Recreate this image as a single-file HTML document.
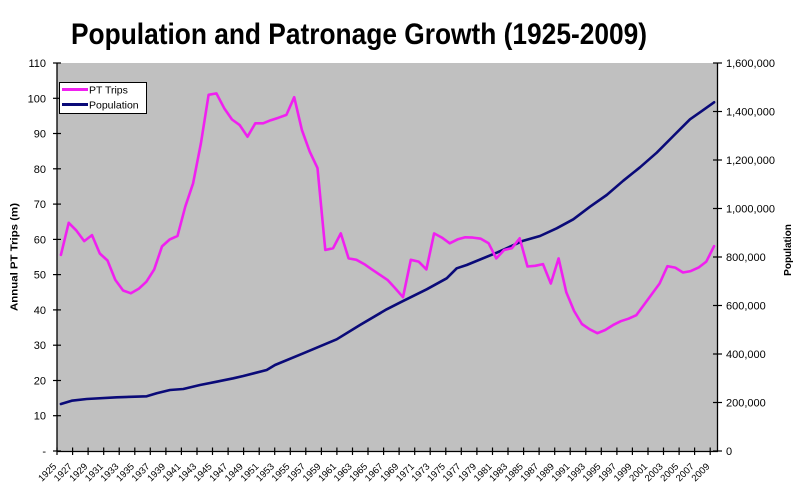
<!DOCTYPE html>
<html>
<head>
<meta charset="utf-8">
<style>
  html,body{margin:0;padding:0;background:#fff;}
  svg{display:block;}
  text{font-family:"Liberation Sans", Arial, sans-serif;fill:#000;}
</style>
</head>
<body>
<svg width="795" height="493" viewBox="0 0 795 493" xmlns="http://www.w3.org/2000/svg">
  <rect x="0" y="0" width="795" height="493" fill="#fff"/>
  <!-- Title -->
  <text x="71" y="44" font-size="30" font-weight="bold" textLength="576" lengthAdjust="spacingAndGlyphs">Population and Patronage Growth (1925-2009)</text>

  <!-- Plot area -->
  <rect x="57" y="63" width="661" height="388" fill="#C0C0C0"/>

  <!-- Axes -->
  <line x1="57" y1="63" x2="57" y2="451.5" stroke="#000" stroke-width="1.3"/>
  <line x1="717.5" y1="63" x2="717.5" y2="451.5" stroke="#000" stroke-width="1.3"/>
  <line x1="57" y1="451.5" x2="718" y2="451.5" stroke="#000" stroke-width="1.3"/>

  <!-- Left ticks -->
  <g stroke="#000" stroke-width="1.2">
    <line x1="53" y1="451" x2="61" y2="451"/>
    <line x1="53" y1="415.7" x2="61" y2="415.7"/>
    <line x1="53" y1="380.5" x2="61" y2="380.5"/>
    <line x1="53" y1="345.2" x2="61" y2="345.2"/>
    <line x1="53" y1="309.9" x2="61" y2="309.9"/>
    <line x1="53" y1="274.6" x2="61" y2="274.6"/>
    <line x1="53" y1="239.4" x2="61" y2="239.4"/>
    <line x1="53" y1="204.1" x2="61" y2="204.1"/>
    <line x1="53" y1="168.8" x2="61" y2="168.8"/>
    <line x1="53" y1="133.5" x2="61" y2="133.5"/>
    <line x1="53" y1="98.3" x2="61" y2="98.3"/>
    <line x1="53" y1="63" x2="61" y2="63"/>
  </g>
  <g font-size="11" text-anchor="end">
    <text x="46" y="455">-</text>
    <text x="46" y="419.7">10</text>
    <text x="46" y="384.5">20</text>
    <text x="46" y="349.2">30</text>
    <text x="46" y="313.9">40</text>
    <text x="46" y="278.6">50</text>
    <text x="46" y="243.4">60</text>
    <text x="46" y="208.1">70</text>
    <text x="46" y="172.8">80</text>
    <text x="46" y="137.5">90</text>
    <text x="46" y="102.3">100</text>
    <text x="46" y="67">110</text>
  </g>

  <!-- Right ticks -->
  <g stroke="#000" stroke-width="1.2">
    <line x1="713" y1="451" x2="722" y2="451"/>
    <line x1="713" y1="402.5" x2="722" y2="402.5"/>
    <line x1="713" y1="354" x2="722" y2="354"/>
    <line x1="713" y1="305.5" x2="722" y2="305.5"/>
    <line x1="713" y1="257" x2="722" y2="257"/>
    <line x1="713" y1="208.5" x2="722" y2="208.5"/>
    <line x1="713" y1="160" x2="722" y2="160"/>
    <line x1="713" y1="111.5" x2="722" y2="111.5"/>
    <line x1="713" y1="63" x2="722" y2="63"/>
  </g>
  <g font-size="11" text-anchor="start">
    <text x="726" y="455">0</text>
    <text x="726" y="406.5">200,000</text>
    <text x="726" y="358">400,000</text>
    <text x="726" y="309.5">600,000</text>
    <text x="726" y="261">800,000</text>
    <text x="726" y="212.5">1,000,000</text>
    <text x="726" y="164">1,200,000</text>
    <text x="726" y="115.5">1,400,000</text>
    <text x="726" y="67">1,600,000</text>
  </g>

  <!-- X ticks -->
  <g stroke="#000" stroke-width="1.2">
    <line x1="57.0" y1="447.5" x2="57.0" y2="455"/>
    <line x1="72.6" y1="447.5" x2="72.6" y2="455"/>
    <line x1="88.1" y1="447.5" x2="88.1" y2="455"/>
    <line x1="103.7" y1="447.5" x2="103.7" y2="455"/>
    <line x1="119.2" y1="447.5" x2="119.2" y2="455"/>
    <line x1="134.8" y1="447.5" x2="134.8" y2="455"/>
    <line x1="150.3" y1="447.5" x2="150.3" y2="455"/>
    <line x1="165.9" y1="447.5" x2="165.9" y2="455"/>
    <line x1="181.4" y1="447.5" x2="181.4" y2="455"/>
    <line x1="197.0" y1="447.5" x2="197.0" y2="455"/>
    <line x1="212.5" y1="447.5" x2="212.5" y2="455"/>
    <line x1="228.1" y1="447.5" x2="228.1" y2="455"/>
    <line x1="243.6" y1="447.5" x2="243.6" y2="455"/>
    <line x1="259.2" y1="447.5" x2="259.2" y2="455"/>
    <line x1="274.7" y1="447.5" x2="274.7" y2="455"/>
    <line x1="290.3" y1="447.5" x2="290.3" y2="455"/>
    <line x1="305.8" y1="447.5" x2="305.8" y2="455"/>
    <line x1="321.4" y1="447.5" x2="321.4" y2="455"/>
    <line x1="336.9" y1="447.5" x2="336.9" y2="455"/>
    <line x1="352.5" y1="447.5" x2="352.5" y2="455"/>
    <line x1="368.0" y1="447.5" x2="368.0" y2="455"/>
    <line x1="383.6" y1="447.5" x2="383.6" y2="455"/>
    <line x1="399.1" y1="447.5" x2="399.1" y2="455"/>
    <line x1="414.7" y1="447.5" x2="414.7" y2="455"/>
    <line x1="430.2" y1="447.5" x2="430.2" y2="455"/>
    <line x1="445.8" y1="447.5" x2="445.8" y2="455"/>
    <line x1="461.3" y1="447.5" x2="461.3" y2="455"/>
    <line x1="476.9" y1="447.5" x2="476.9" y2="455"/>
    <line x1="492.5" y1="447.5" x2="492.5" y2="455"/>
    <line x1="508.0" y1="447.5" x2="508.0" y2="455"/>
    <line x1="523.6" y1="447.5" x2="523.6" y2="455"/>
    <line x1="539.1" y1="447.5" x2="539.1" y2="455"/>
    <line x1="554.7" y1="447.5" x2="554.7" y2="455"/>
    <line x1="570.2" y1="447.5" x2="570.2" y2="455"/>
    <line x1="585.8" y1="447.5" x2="585.8" y2="455"/>
    <line x1="601.3" y1="447.5" x2="601.3" y2="455"/>
    <line x1="616.9" y1="447.5" x2="616.9" y2="455"/>
    <line x1="632.4" y1="447.5" x2="632.4" y2="455"/>
    <line x1="648.0" y1="447.5" x2="648.0" y2="455"/>
    <line x1="663.5" y1="447.5" x2="663.5" y2="455"/>
    <line x1="679.1" y1="447.5" x2="679.1" y2="455"/>
    <line x1="694.6" y1="447.5" x2="694.6" y2="455"/>
    <line x1="710.2" y1="447.5" x2="710.2" y2="455"/>
  </g>

  <!-- X labels -->
  <g font-size="9.5" text-anchor="end">
    <text x="57.0" y="467" transform="rotate(-45 57.0 467)">1925</text>
    <text x="72.6" y="467" transform="rotate(-45 72.6 467)">1927</text>
    <text x="88.1" y="467" transform="rotate(-45 88.1 467)">1929</text>
    <text x="103.7" y="467" transform="rotate(-45 103.7 467)">1931</text>
    <text x="119.2" y="467" transform="rotate(-45 119.2 467)">1933</text>
    <text x="134.8" y="467" transform="rotate(-45 134.8 467)">1935</text>
    <text x="150.3" y="467" transform="rotate(-45 150.3 467)">1937</text>
    <text x="165.9" y="467" transform="rotate(-45 165.9 467)">1939</text>
    <text x="181.4" y="467" transform="rotate(-45 181.4 467)">1941</text>
    <text x="197.0" y="467" transform="rotate(-45 197.0 467)">1943</text>
    <text x="212.5" y="467" transform="rotate(-45 212.5 467)">1945</text>
    <text x="228.1" y="467" transform="rotate(-45 228.1 467)">1947</text>
    <text x="243.6" y="467" transform="rotate(-45 243.6 467)">1949</text>
    <text x="259.2" y="467" transform="rotate(-45 259.2 467)">1951</text>
    <text x="274.7" y="467" transform="rotate(-45 274.7 467)">1953</text>
    <text x="290.3" y="467" transform="rotate(-45 290.3 467)">1955</text>
    <text x="305.8" y="467" transform="rotate(-45 305.8 467)">1957</text>
    <text x="321.4" y="467" transform="rotate(-45 321.4 467)">1959</text>
    <text x="336.9" y="467" transform="rotate(-45 336.9 467)">1961</text>
    <text x="352.5" y="467" transform="rotate(-45 352.5 467)">1963</text>
    <text x="368.0" y="467" transform="rotate(-45 368.0 467)">1965</text>
    <text x="383.6" y="467" transform="rotate(-45 383.6 467)">1967</text>
    <text x="399.1" y="467" transform="rotate(-45 399.1 467)">1969</text>
    <text x="414.7" y="467" transform="rotate(-45 414.7 467)">1971</text>
    <text x="430.2" y="467" transform="rotate(-45 430.2 467)">1973</text>
    <text x="445.8" y="467" transform="rotate(-45 445.8 467)">1975</text>
    <text x="461.3" y="467" transform="rotate(-45 461.3 467)">1977</text>
    <text x="476.9" y="467" transform="rotate(-45 476.9 467)">1979</text>
    <text x="492.5" y="467" transform="rotate(-45 492.5 467)">1981</text>
    <text x="508.0" y="467" transform="rotate(-45 508.0 467)">1983</text>
    <text x="523.6" y="467" transform="rotate(-45 523.6 467)">1985</text>
    <text x="539.1" y="467" transform="rotate(-45 539.1 467)">1987</text>
    <text x="554.7" y="467" transform="rotate(-45 554.7 467)">1989</text>
    <text x="570.2" y="467" transform="rotate(-45 570.2 467)">1991</text>
    <text x="585.8" y="467" transform="rotate(-45 585.8 467)">1993</text>
    <text x="601.3" y="467" transform="rotate(-45 601.3 467)">1995</text>
    <text x="616.9" y="467" transform="rotate(-45 616.9 467)">1997</text>
    <text x="632.4" y="467" transform="rotate(-45 632.4 467)">1999</text>
    <text x="648.0" y="467" transform="rotate(-45 648.0 467)">2001</text>
    <text x="663.5" y="467" transform="rotate(-45 663.5 467)">2003</text>
    <text x="679.1" y="467" transform="rotate(-45 679.1 467)">2005</text>
    <text x="694.6" y="467" transform="rotate(-45 694.6 467)">2007</text>
    <text x="710.2" y="467" transform="rotate(-45 710.2 467)">2009</text>
  </g>

  <!-- Axis titles -->
  <text x="0" y="0" font-size="10.5" font-weight="bold" text-anchor="middle" textLength="108" lengthAdjust="spacingAndGlyphs" transform="translate(17.5 257) rotate(-90)">Annual PT Trips (m)</text>
  <text x="0" y="0" font-size="10" font-weight="bold" text-anchor="middle" transform="translate(791 250) rotate(-90)">Population</text>

  <!-- Population series -->
  <polyline fill="none" stroke="#0A0A78" stroke-width="2.6" stroke-linejoin="round" stroke-linecap="round"
    points="60.9,404 71.7,400.7 86.7,399 116.7,397.3 146.7,396.3 156.7,393.3 170,390 183.3,389 200,385 216.7,381.7 233.3,378.3 243.3,376 266.7,370 275,365 303.3,353.3 336.7,339.3 360,325 386.7,309.3 401.7,301.7 426.7,289.3 446.7,278.3 456.7,268.3 466.7,265 496.7,252.7 523.3,240.7 540,236 556.7,228.3 573.3,219.3 590,206.7 606.7,195 623.3,180.7 640,167.3 656.7,152.7 673.3,136 690,119.3 700,112.3 714.1,102.3"/>

  <!-- PT Trips series -->
  <polyline fill="none" stroke="#F020F0" stroke-width="2.6" stroke-linejoin="round" stroke-linecap="round"
    points="60.9,254.9 68.7,222.8 76.4,230.6 84.2,241.1 92.0,235.1 99.8,253.5 107.5,260.5 115.3,279.9 123.1,290.5 130.9,293.3 138.7,288.8 146.4,281.7 154.2,269.4 162.0,246.4 169.8,239.4 177.5,235.9 185.3,206.6 193.1,183.3 200.9,143.4 208.6,94.8 216.4,93.4 224.2,108.2 232.0,119.5 239.7,125.1 247.5,136.7 255.3,123.3 263.1,123.3 270.8,120.2 278.6,117.7 286.4,114.9 294.2,97.2 301.9,130.0 309.7,151.6 317.5,168.1 325.3,250.0 333.1,248.2 340.8,233.4 348.6,258.4 356.4,259.8 364.2,264.1 371.9,269.4 379.7,274.7 387.5,279.9 395.3,288.4 403.0,297.2 410.8,259.8 418.6,261.6 426.4,269.4 434.1,233.4 441.9,237.6 449.7,243.3 457.5,239.4 465.2,237.3 473.0,237.6 480.8,238.7 488.6,243.3 496.3,258.4 504.1,250.0 511.9,248.2 519.7,238.3 527.5,266.5 535.2,265.8 543.0,264.1 550.8,283.5 558.6,258.4 566.3,292.3 574.1,311.0 581.9,324.0 589.7,329.3 597.4,333.2 605.2,330.0 613.0,325.1 620.8,321.2 628.5,318.7 636.3,315.2 644.1,304.6 651.9,294.0 659.6,283.5 667.4,266.2 675.2,267.6 683.0,272.5 690.7,271.1 698.5,267.6 706.3,261.6 714.1,246.1"/>

  <!-- Legend -->
  <rect x="59.5" y="82.5" width="87" height="31" fill="#fff" stroke="#000" stroke-width="1"/>
  <line x1="62" y1="89.5" x2="88" y2="89.5" stroke="#F020F0" stroke-width="3"/>
  <line x1="62" y1="104.5" x2="88" y2="104.5" stroke="#0A0A78" stroke-width="3"/>
  <text x="89" y="93.5" font-size="10.5">PT Trips</text>
  <text x="89" y="108.5" font-size="10.5">Population</text>
</svg>
</body>
</html>
